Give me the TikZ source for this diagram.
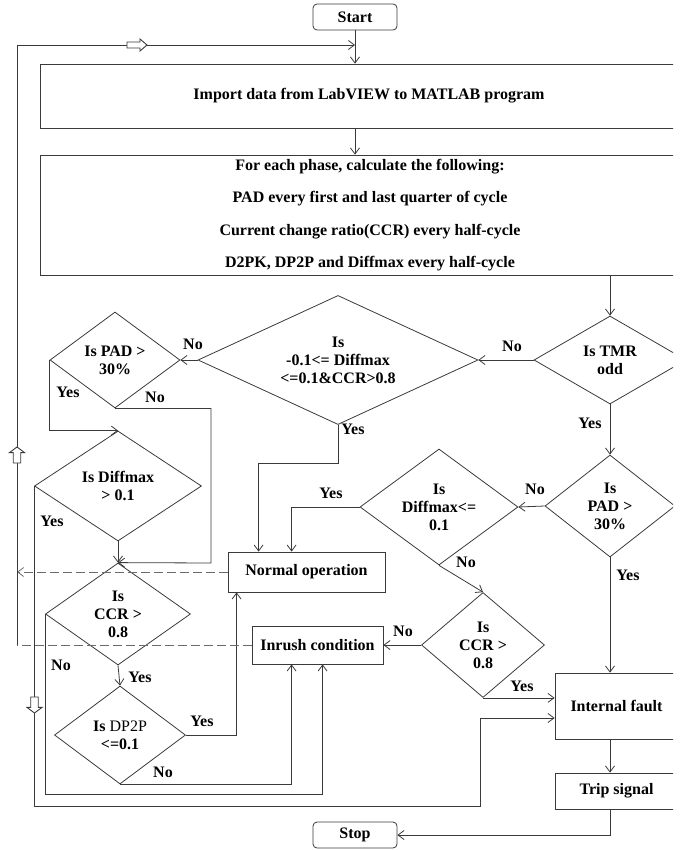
\documentclass[tikz,border=0pt]{standalone}
\usepackage{fontspec}
\setmainfont{Liberation Serif}
\usetikzlibrary{arrows.meta, positioning, shapes.geometric}
\definecolor{cline}{HTML}{3A3A3A}
\definecolor{cdash}{HTML}{6B6B6B}
\tikzset{
  every picture/.style={line width=0.8pt},
  every node/.style={font=\fontsize{16}{18}\selectfont\bfseries},
  procbox/.style={draw=cline, rectangle, align=center, inner sep=2pt},
  termbox/.style={procbox, rounded corners=4pt},
  decision/.style={draw=cline, diamond, align=center, inner sep=0pt, shape aspect=1.4},
  arrow/.style={-{Straight Barb[length=6pt, width=9pt]}, draw=cline},
  loopback/.style={draw=cdash, dash pattern=on 9pt off 4pt},
  lbl/.style={inner sep=0pt},
  hollowarrow/.pic={
    \draw[cline, fill=white, line width=0.9pt]
      (-10,-3) -- (3,-3) -- (3,-6) -- (10,0) -- (3,6) -- (3,3) -- (-10,3) -- cycle;
  },
}

\begin{document}
\begin{tikzpicture}[x=1pt, y=-1pt]
  \useasboundingbox (0,0) rectangle (681,850);
  \clip (0,0) rectangle (673,850);
  \node[termbox, minimum width=84pt, minimum height=26pt] (start) at (355,17) {Start};
  \node[procbox, minimum width=658pt, minimum height=64pt] (import) at (369,96) {Import data from LabVIEW to MATLAB program};
  \node[procbox, minimum width=660pt, minimum height=120pt, font=\fontsize{16}{32.3}\selectfont\bfseries] (calc) at (370,215)
    {For each phase, calculate the following:\\PAD every first and last quarter of cycle\\Current change ratio(CCR) every half-cycle\\D2PK, DP2P and Diffmax every half-cycle};
  % decisions
  \node[decision, minimum width=152pt, minimum height=88pt] (tmr) at (610,360) {Is TMR\\odd};
  \node[decision, minimum width=280pt, minimum height=110pt] (bigd) at (338,360) {Is\\-0.1<= Diffmax\\<=0.1\&CCR>0.8};
  \node[decision, minimum width=130pt, minimum height=96pt] (padl) at (115,360) {Is PAD >\\30\%};
  \node[decision, minimum width=167pt, minimum height=110pt] (dfx) at (118,486) {Is Diffmax\\> 0.1};
  \node[decision, minimum width=145pt, minimum height=102pt] (ccrl) at (118,614) {Is\\CCR >\\0.8};
  \node[decision, minimum width=131pt, minimum height=98pt] (dp2p) at (120,735) {Is {\mdseries DP2P}\\<=0.1};
  \node[decision, minimum width=130pt, minimum height=102pt] (padr) at (610,506) {Is\\PAD >\\30\%};
  \node[decision, minimum width=158pt, minimum height=116pt] (dfle) at (439,507) {Is\\Diffmax<=\\0.1};
  \node[decision, minimum width=123pt, minimum height=105pt] (ccrr) at (483,645) {Is\\CCR >\\0.8};
  % results
  \node[procbox, minimum width=157pt, minimum height=40pt] (normal) at (306.5,572) {Normal operation};
  \node[procbox, minimum width=131pt, minimum height=38pt] (inrush) at (317.5,645) {Inrush condition};
  \node[procbox, minimum width=123pt, minimum height=66pt] (fault) at (616.5,706) {Internal fault};
  \node[procbox, minimum width=123pt, minimum height=36pt] (trip) at (616.5,791) {Trip signal};
  \node[termbox, minimum width=84pt, minimum height=26pt] (stop) at (355,835) {Stop};

  \coordinate (ltop) at (17,45);
  \coordinate (lbot) at (17,645);
  \coordinate (c1) at (480,806);

  \draw[arrow] (start.south) -- (start.south |- import.north);
  \draw[arrow] (import.south -| start) -- (start |- calc.north);
  \draw[arrow] (calc.south -| tmr) -- (tmr.north);
  \draw[arrow] (tmr.west) -- (bigd.east) node[lbl] (no1) at (512,346) {No};
  \draw[arrow] (bigd.west) -- (padl.east) node[lbl] (no2) at (193,344) {No};
  \draw[arrow] (padl.west) |- (dfx.north) node[lbl] (yes1) at (68,392) {Yes};
  \draw[arrow] (padl.south) -| (211,563) -- (ccrl.north) node[lbl] (no3) at (155,397) {No};
  \draw[arrow] (dfx.south) -- (ccrl.north);
  \draw[arrow] (dfx.west) |- (c1) |- (fault.west |- 0,718) node[lbl] (yes2) at (52,521) {Yes};
  \draw[arrow] (bigd.south) -- ++(0,38) -| ([xshift=31pt]normal.north west) node[lbl] (yes3) at (353,429) {Yes};
  \draw[arrow] (tmr.south) -- (padr.north) node[lbl] (yes4) at (590,423) {Yes};
  \draw[arrow] (padr.west) -- (dfle.east) node[lbl] (no4) at (535,489) {No};
  \draw[arrow] (dfle.west) -| ([xshift=64pt]normal.north west) node[lbl] (yes5) at (331,493) {Yes};
  \draw[arrow] (dfle.south) -- (ccrr.north) node[lbl] (no5) at (466,562) {No};
  \draw[arrow] (ccrr.west) -- (ccrr.west -| inrush.east) node[lbl] (no6) at (403,631) {No};
  \draw[arrow] (ccrr.south) -- (ccrr.south -| fault.west) node[lbl] (yes6) at (522,686) {Yes};
  \draw[arrow] (padr.south) -- (padr.south |- fault.north) node[lbl] (yes7) at (628,575) {Yes};
  \draw[arrow] (fault.south -| padr) -- (padr |- trip.north);
  \draw[arrow] (trip.south -| padr) |- (stop.east);
  \draw[arrow] (ccrl.south) -- (dp2p.north) node[lbl] (yes8) at (140,677) {Yes};
  \draw[arrow] (ccrl.west) -- ++(0,180) -| ([xshift=71pt]inrush.south west) node[lbl] (no7) at (61,665) {No};
  \draw[arrow] (dp2p.east) -| ([xshift=9pt]normal.south west) node[lbl] (yes9) at (202,721) {Yes};
  \draw[arrow] (dp2p.south) -| ([xshift=40pt]inrush.south west) node[lbl] (no8) at (163,772) {No};
  % back to the start
  \draw[loopback, arrow, draw=cdash] (normal.west) -- (normal.west -| lbot);
  \draw[loopback] (inrush.west) -- (lbot);
  \draw[arrow] (lbot) -- (ltop) -- (ltop -| start);
  \pic at (137,45) {hollowarrow};
  \pic[rotate=90, xscale=0.8, yscale=1.25] at (17,455) {hollowarrow};
  \pic[rotate=-90, xscale=0.8, yscale=1.25] at (34.5,705) {hollowarrow};
\end{tikzpicture}
\end{document}
